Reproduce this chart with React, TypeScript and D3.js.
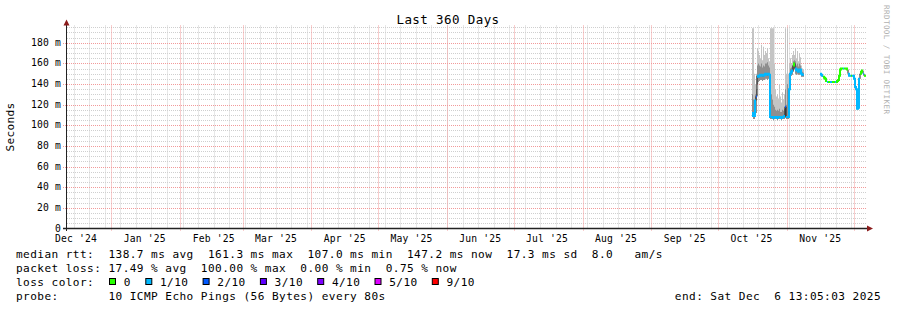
import React from 'react';
import * as d3 from 'd3';

const W = 897;
const H = 310;

// ---- time frame of the graph (UTC) ----
const chartStart = Date.UTC(2024, 11, 11, 13, 5, 3);
const chartEnd = Date.UTC(2025, 11, 6, 13, 5, 3);
const STEP_MS = 10.8 * 3600 * 1000; // one RRA row per pixel

// ---- y axis ----
const yMax = 196.7;
const yMajorTicks = [0, 20, 40, 60, 80, 100, 120, 140, 160, 180];
const yMinorTicks = [5, 10, 15, 25, 30, 35, 45, 50, 55, 65, 70, 75, 85, 90, 95, 105, 110, 115, 125, 130, 135, 145, 150, 155, 165, 170, 175, 185, 190, 195];

// ---- loss legend ----
const lossLabels = ['0', '1/10', '2/10', '3/10', '4/10', '5/10', '9/10'];
const lossColors = ['#26ff00', '#00b8ff', '#0059ff', '#5e00ff', '#7e00ff', '#dd00ff', '#ff0000'];

// ---- data cluster A (mid-October) ----
const clusterAStart = Date.UTC(2025, 9, 16, 6, 0);
const medianA = [112, 109, 109, 124, 128, 148, 147, 148, 149, 149, 148, 148, 149, 150, 150, 149, 150, 149,
  108, 108, 108, 107, 108, 108, 108, 107, 108, 108, 108, 107, 108, 108, 109, 118, 108, 108,
  108, 135, 150, 152, 153, 158, 160, 155, 153, 154, 152, 153, 154, 150, 149, 149];
const lossA = [1, 1, 1, 1, 2, 1, 1, 1, 1, 1, 1, 1, 1, 1, 1, 1, 1, 1,
  1, 1, 1, 1, 1, 1, 1, 1, 1, 1, 1, 1, 1, 1, 1, 2, 1, 1,
  1, 1, 1, 1, 1, 0, 0, 1, 1, 1, 1, 1, 1, 1, 1, 1];
const smokeMaxA = [194, 194, 150, 140, 150, 175, 172, 168, 165, 178, 163, 176, 168, 172, 170, 175, 165, 162,
  194, 194, 194, 194, 160, 135, 128, 130, 126, 140, 128, 122, 132, 125, 130, 194, 150, 194,
  150, 160, 165, 160, 168, 172, 168, 175, 165, 172, 162, 170, 166, 158, 155, 154];
const smokeMidA = [130, 125, 118, 130, 135, 158, 160, 158, 157, 160, 156, 158, 157, 160, 160, 161, 158, 156,
  140, 130, 125, 120, 118, 115, 114, 115, 114, 116, 113, 113, 115, 114, 116, 135, 120, 140,
  118, 145, 155, 156, 158, 162, 163, 162, 158, 160, 157, 160, 158, 153, 152, 151];
const smokeMinA = [108, 106, 106, 108, 112, 140, 142, 143, 144, 144, 143, 144, 144, 145, 145, 144, 145, 144,
  106, 106, 106, 105, 106, 106, 106, 105, 106, 106, 106, 105, 106, 106, 106, 107, 106, 106,
  106, 120, 146, 148, 149, 152, 154, 150, 149, 150, 149, 149, 150, 147, 147, 147];

// ---- data cluster B (mid-November onwards) ----
const clusterBStart = Date.UTC(2025, 10, 15, 20, 20);
const medianB = [150, 149, 148, 147, 146, 145, 143, 142, 142, 142, 142, 142, 142, 142, 142, 142, 142, 143, 144, 148,
  154, 155, 155, 155, 155, 155, 155, 154, 150, 148, 148, 148, 148, 148, 145, 137, 135, 116, 117, 145,
  150, 152, 153, 150, 148, 148];
const lossB = [1, 1, 1, 0, 0, 0, 0, 1, 0, 0, 1, 1, 0, 0, 0, 1, 0, 0, 0, 0,
  0, 0, 0, 1, 0, 0, 0, 0, 1, 1, 1, 0, 1, 1, 1, 1, 1, 1, 1, 1,
  0, 0, 0, 1, 0, 0];

// ---- texts ----
const titleText = 'Last 360 Days';
const unitText = 'Seconds';
const watermarkText = 'RRDTOOL / TOBI OETIKER';
const legendRtt = 'median rtt:  138.7 ms avg  161.3 ms max  107.0 ms min  147.2 ms now  17.3 ms sd  8.0   am/s';
const legendLoss = 'packet loss: 17.49 % avg  100.00 % max  0.00 % min  0.75 % now';
const legendColorTitle = 'loss color:';
const legendProbe = 'probe:       10 ICMP Echo Pings (56 Bytes) every 80s';
const legendEnd = 'end: Sat Dec  6 13:05:03 2025';

type Sample = { t0: number; t1: number; med: number | null; loss: number; hi: number | null; mid: number | null; lo: number | null };

function buildSamples(start: number, med: number[], loss: number[], hi?: number[], mid?: number[], lo?: number[]): Sample[] {
  return med.map((m, i) => ({
    t0: start + i * STEP_MS,
    t1: start + (i + 1) * STEP_MS,
    med: m,
    loss: loss[i],
    hi: hi ? hi[i] : null,
    mid: mid ? mid[i] : null,
    lo: lo ? lo[i] : null,
  }));
}

function binOf(count: number) {
  if (count <= 4) return count;
  if (count <= 8) return 5;
  return 6;
}

const MONO = "'DejaVu Sans Mono', monospace";
const PRE: React.CSSProperties = { whiteSpace: 'pre' };

export default function App() {
  const x = d3.scaleUtc().domain([new Date(chartStart), new Date(chartEnd)]).range([66, 866]);
  const y = d3.scaleLinear().domain([0, yMax]).range([228.5, 25.5]);
  const px = (t: number) => Math.round(x(new Date(t))) + 0.5;
  const py = (v: number) => Math.round(y(v)) + 0.5;

  const clusters = [
    buildSamples(clusterAStart, medianA, lossA, smokeMaxA, smokeMidA, smokeMinA),
    buildSamples(clusterBStart, medianB, lossB),
  ];

  type P = { t: number; v: number | null; v2?: number | null };
  const line = d3.line<P>().defined((p) => p.v != null).x((p) => x(new Date(p.t))).y((p) => y(p.v as number));
  const area = d3.area<P>().defined((p) => p.v != null && p.v2 != null)
    .x((p) => x(new Date(p.t))).y0((p) => y(p.v as number)).y1((p) => y(p.v2 as number));

  const stepPts = (s: Sample[], get: (d: Sample) => number | null, get2?: (d: Sample) => number | null): P[] => {
    const pts: P[] = [];
    s.forEach((d) => {
      const v = get(d);
      const v2 = get2 ? get2(d) : null;
      pts.push({ t: d.t0, v, v2 }, { t: d.t1, v, v2 });
    });
    return pts;
  };

  const smokeOuter = clusters.map((c) => area(stepPts(c, (d) => d.lo, (d) => d.hi)) || '').join('');
  const smokeInner = clusters.map((c) => area(stepPts(c, (d) => d.lo, (d) => d.mid)) || '').join('');
  const medianPath = clusters.map((c) => line(stepPts(c, (d) => d.med)) || '').join('');
  const colorPaths = lossColors.map((col, bi) =>
    clusters.map((c) => line(stepPts(c, (d) => (binOf(d.loss) === bi ? d.med : null))) || '').join('')
  );

  const weeks = d3.utcSunday.range(new Date(chartStart), new Date(chartEnd));
  const months = d3.utcMonth.range(new Date(chartStart), new Date(chartEnd));
  const monthLabels = d3.utcMonth.range(d3.utcMonth.floor(new Date(chartStart)), new Date(chartEnd))
    .map((m) => ({ m, c: d3.utcDay.offset(m, 15) }))
    .filter((o) => +o.c >= chartStart && +o.c <= chartEnd);
  const fmt = d3.utcFormat("%b '%y");

  const gridMinor = '#cfcfcf';
  const gridMajor = '#f29a9a';

  // legend square positions
  const sq: number[] = [];
  let cx = 109;
  lossLabels.forEach((lab) => {
    sq.push(cx);
    cx += 14.7 + lab.length * 7 + 14.6;
  });

  return (
    <svg width={W} height={H} style={{ position: 'absolute', left: 0, top: 0, background: '#fff' }}>
      <rect x={0} y={0} width={W} height={H} fill="#ffffff" />
      {/* minor grid */}
      {yMinorTicks.map((v) => (
        <line key={'hm' + v} x1={67} x2={866} y1={py(v)} y2={py(v)} stroke={gridMinor} strokeDasharray="1,1" />
      ))}
      {weeks.map((w) => (
        <line key={'vm' + +w} x1={px(+w)} x2={px(+w)} y1={25.5} y2={228} stroke={gridMinor} strokeDasharray="1,1" />
      ))}
      {/* major grid */}
      {yMajorTicks.filter((v) => v > 0).map((v) => (
        <line key={'hM' + v} x1={63} x2={866} y1={py(v)} y2={py(v)} stroke={gridMajor} strokeDasharray="1,1" />
      ))}
      {months.map((m) => (
        <line key={'vM' + +m} x1={px(+m)} x2={px(+m)} y1={25.5} y2={231} stroke={gridMajor} strokeDasharray="1,1" />
      ))}

      {/* smoke */}
      <path d={smokeOuter} fill="#c4c4c4" stroke="none" />
      <path d={smokeInner} fill="#8e8e8e" stroke="none" />
      {/* median */}
      <path d={medianPath} fill="none" stroke="#1a1a1a" strokeWidth={1} />
      {colorPaths.map((d, i) => (
        <path key={'c' + i} d={d} fill="none" stroke={lossColors[i]} strokeWidth={2} />
      ))}

      {/* axes */}
      <line x1={66.5} x2={66.5} y1={24} y2={231} stroke="#222" strokeWidth={1} />
      <line x1={63} x2={868} y1={228.5} y2={228.5} stroke="#222" strokeWidth={1.4} />
      <path d="M63.5,25.5 L69.5,25.5 L66.5,19.5 Z" fill="#8b1c1c" />
      <path d="M867,225.5 L867,231.5 L873,228.5 Z" fill="#8b1c1c" />

      {/* y labels */}
      {yMajorTicks.map((v) => (
        <text key={'yl' + v} x={61} y={y(v) + 3} textAnchor="end" fontFamily={MONO} fontSize={9.7}
          letterSpacing={0.16} fill="#000" xmlSpace="preserve" style={PRE}>
          {v === 0 ? '0' : `${v} m`}
        </text>
      ))}
      {/* x labels */}
      {monthLabels.map((o) => (
        <text key={'xl' + +o.m} x={x(o.c)} y={241.5} textAnchor="middle" fontFamily={MONO} fontSize={9.7}
          letterSpacing={0.16} fill="#000" xmlSpace="preserve" style={PRE}>
          {fmt(o.m)}
        </text>
      ))}

      {/* title */}
      <text x={448} y={23.5} textAnchor="middle" fontFamily={MONO} fontSize={12.5} letterSpacing={0.4} fill="#000">
        {titleText}
      </text>
      {/* unit */}
      <text transform="translate(14,127) rotate(-90)" textAnchor="middle" fontFamily={MONO} fontSize={11.1}
        letterSpacing={0.3} fill="#000">
        {unitText}
      </text>
      {/* watermark */}
      <text transform="translate(883.5,5) rotate(90)" textAnchor="start" fontFamily={MONO} fontSize={7.6}
        letterSpacing={0.4} fill="#b0b0b0">
        {watermarkText}
      </text>

      {/* legend */}
      <g fontFamily={MONO} fontSize={11.1} letterSpacing={0.43} fill="#000">
        <text x={16} y={258} xmlSpace="preserve" style={PRE}>{legendRtt}</text>
        <text x={16} y={272} xmlSpace="preserve" style={PRE}>{legendLoss}</text>
        <text x={16} y={286} xmlSpace="preserve" style={PRE}>{legendColorTitle}</text>
        {lossLabels.map((lab, i) => (
          <g key={'lg' + i}>
            <rect x={sq[i] + 0.5} y={278.5} width={6} height={6} fill={lossColors[i]} stroke="#000" strokeWidth={1} />
            <text x={sq[i] + 14.7} y={286} xmlSpace="preserve" style={PRE}>{lab}</text>
          </g>
        ))}
        <text x={16} y={300} xmlSpace="preserve" style={PRE}>{legendProbe}</text>
        <text x={881} y={300} textAnchor="end" xmlSpace="preserve" style={PRE}>{legendEnd}</text>
      </g>
    </svg>
  );
}
